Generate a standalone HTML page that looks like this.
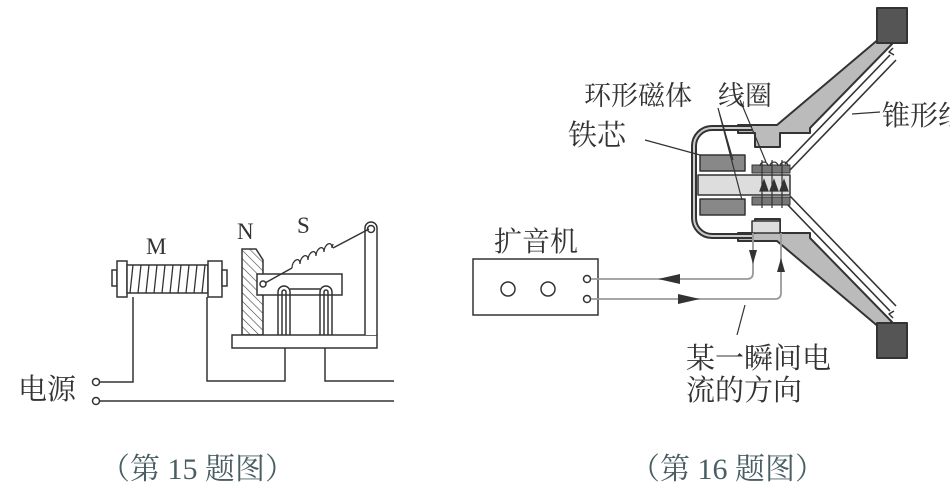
<!DOCTYPE html>
<html><head><meta charset="utf-8"><style>
body{margin:0;background:#fff}
svg{display:block}
text{font-family:"Liberation Serif","Noto Serif CJK SC","Noto Sans CJK SC",serif;fill:#333}
</style></head><body>
<svg width="950" height="495" viewBox="0 0 950 495" xmlns="http://www.w3.org/2000/svg">
<defs>
<pattern id="h" width="6" height="6" patternUnits="userSpaceOnUse" patternTransform="rotate(-45)">
<line x1="0" y1="0" x2="0" y2="6" stroke="#444" stroke-width="1.2"/></pattern>
</defs>
<g stroke="#333" stroke-width="1.5" fill="none">
<rect x="112" y="270" width="5" height="16" fill="#fff"/>
<rect x="117" y="261" width="10" height="36" fill="#fff"/>
<rect x="127" y="265" width="81" height="28" fill="#fff"/>
<g stroke-width="1.3">
<path d="M133 265 l-3 28 M141 265 l-3 28 M149 265 l-3 28 M157 265 l-3 28 M165 265 l-3 28 M173 265 l-3 28 M181 265 l-3 28 M189 265 l-3 28 M197 265 l-3 28 M205 265 l-3 28"/>
</g>
<rect x="208" y="261" width="14" height="36" fill="#fff"/>
<rect x="222" y="270" width="5" height="16" fill="#fff"/>
<path d="M242 335 V249 H256 L263 260 V335 Z" fill="url(#h)"/>
<rect x="232" y="335" width="145" height="13" fill="#fff"/>
<rect x="257" y="274" width="85" height="21" fill="#fff"/>
<path d="M278 335 V292 a6 6 0 0 1 12 0 V335 M282 335 V292 a2 2 0 0 1 4 0 V335"/>
<path d="M320 335 V292 a6 6 0 0 1 12 0 V335 M324 335 V292 a2 2 0 0 1 4 0 V335"/>
<line x1="290" y1="289" x2="320" y2="289"/>
<path d="M365 335 V228 a6 6 0 0 1 12 0 V335" fill="#fff"/>
<circle cx="371" cy="229" r="3.5"/>
<circle cx="263" cy="284" r="3"/>
<path d="M265 283 L292 268 M333 248 L369 229"/>
<path d="M292 268 c0 -8 8 -12 8 -4 c0 -8 8 -12 8 -4 c0 -8 8 -12 8 -4 c0 -8 8 -12 8 -4 c0 -8 8 -12 8 -4 l1 -4" stroke-width="1.3"/>
<path d="M133 297 V382 H100"/>
<path d="M207 297 V381 H285 V348"/>
<path d="M325 348 V381 H394"/>
<path d="M100 401 H394"/>
<circle cx="96" cy="382" r="3.5" fill="#fff"/>
<circle cx="96" cy="401" r="3.5" fill="#fff"/>
</g>
<text x="146" y="254" font-size="23">M</text>
<text x="237" y="239" font-size="23">N</text>
<text x="297" y="233" font-size="23">S</text>
<text x="18" y="399" font-size="29">电源</text>
<text x="100" y="479" font-size="30" style="fill:#4a5f63">（第 15 题图）</text>

<g stroke="#333" stroke-width="2" stroke-linejoin="round">
<polygon points="880,38 892,44 810,128 810,133 780,133 780,147 755,147 755,133 738,133 738,125 777,125" fill="#bbb"/>
<polygon points="880,328 892,322 810,238 810,233 780,233 780,219 755,219 755,233 738,233 738,241 777,241" fill="#bbb"/>
<path d="M890 55 L785 164 M896 60 L790 170" stroke-width="1.6" fill="none"/>
<path d="M890 311 L785 202 M896 306 L790 196" stroke-width="1.6" fill="none"/>
<path d="M893 48 l-4 4 l5 3 M893 318 l-4 -4 l5 -3" stroke-width="1.5" fill="none"/>
<rect x="877" y="8" width="30" height="35" fill="#555"/>
<rect x="877" y="323" width="30" height="35" fill="#555"/>
<path d="M752 128 H712 a18 18 0 0 0 -18 18 V218 a18 18 0 0 0 18 18 H752" fill="none" stroke-width="6"/>
<path d="M752 128 H712 a18 18 0 0 0 -18 18 V218 a18 18 0 0 0 18 18 H752" fill="none" stroke="#ccc" stroke-width="2"/>
<rect x="700" y="155" width="45" height="16" fill="#888" stroke-width="1.5"/>
<rect x="700" y="199" width="45" height="16" fill="#888" stroke-width="1.5"/>
<rect x="698" y="175" width="92" height="20" fill="#ddd" stroke-width="1.5"/>
<rect x="752" y="165" width="38" height="8" fill="#777" stroke-width="1"/>
<rect x="752" y="197" width="38" height="8" fill="#777" stroke-width="1"/>
<rect x="752" y="221" width="28" height="12" fill="#ddd" stroke-width="1.5"/>
</g>
<g stroke="#333" stroke-width="1.2" fill="none">
<path d="M760 166 a4 4 0 0 1 8 0 M770 166 a4 4 0 0 1 8 0 M780 166 a4 4 0 0 1 8 0"/>
<path d="M762 160 V208 M772 160 V208 M782 160 V208"/>
<path d="M760 191 l4 -11 l4 11 Z M770 191 l4 -11 l4 11 Z M780 191 l4 -11 l4 11 Z" fill="#333"/>
<path d="M718 108 L733 160 M718 108 L742 200 M645 140 L700 155 M740 100 L766 162 M852 114 L880 112"/>
<path d="M745 305 L737 335"/>
</g>
<text x="584" y="105" font-size="27">环形磁体</text>
<text x="718" y="105" font-size="27">线圈</text>
<text x="568" y="145" font-size="29">铁芯</text>
<text x="882" y="125" font-size="28">锥形纸</text>
<text x="494" y="251" font-size="28">扩音机</text>
<g stroke="#333" stroke-width="1.5" fill="none">
<rect x="473" y="259" width="125" height="56"/>
<circle cx="508" cy="289" r="7"/><circle cx="548" cy="289" r="7"/>
<circle cx="587" cy="279" r="3.5"/><circle cx="587" cy="299" r="3.5"/>
</g>
<g stroke="#999" stroke-width="1.8" fill="none">
<path d="M591 279 H747 q6 0 6 -6 V233"/>
<path d="M591 299 H775 q6 0 6 -6 V233"/>
</g>
<g fill="#333">
<path d="M658 279 l22 -5 v10 Z"/>
<path d="M700 299 l-22 -5 v10 Z"/>
<path d="M753 264 l-4 -14 h8 Z"/>
<path d="M781 258 l-4 14 h8 Z"/>
</g>
<text x="686" y="368" font-size="29">某一瞬间电</text>
<text x="686" y="400" font-size="29">流的方向</text>
<text x="630" y="479" font-size="30" style="fill:#4a5f63">（第 16 题图）</text>
</svg>
</body></html>
